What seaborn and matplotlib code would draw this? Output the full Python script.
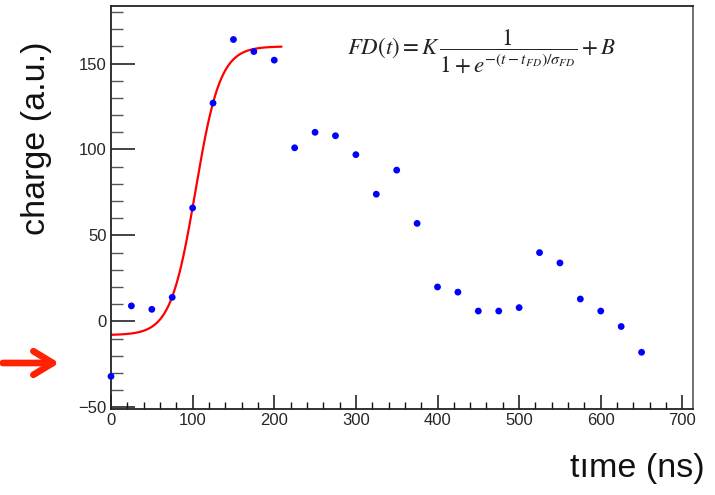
import numpy as np
import pandas as pd
import matplotlib
matplotlib.use("Agg")
import matplotlib.pyplot as plt
from matplotlib.patches import FancyArrowPatch
from matplotlib.ticker import MultipleLocator
import seaborn as sns

# ---- data ----
time_ns = [0, 25, 50, 75, 100, 125, 150, 175, 200, 225, 250, 275, 300, 325,
           350, 375, 400, 425, 450, 475, 500, 525, 550, 575, 600, 625, 650]
charge = [-32, 9, 7, 14, 66, 127, 164, 157, 152, 101, 110, 108, 97, 74,
          88, 57, 20, 17, 6, 6, 8, 40, 34, 13, 6, -3, -18]

# Fermi-Dirac fit parameters
fit_K = 168.0
fit_B = -8.0
fit_t0 = 103.5
fit_sigma = 15.2
fit_range = (0, 209)

sns.set_theme(style="ticks")
plt.rcParams["font.family"] = ["Liberation Sans", "DejaVu Sans"]
plt.rcParams["mathtext.fontset"] = "stix"

fig = plt.figure(figsize=(7.15, 4.95), dpi=100)
ax = fig.add_axes([111/715, 1-409/495, (693-111)/715, (409-6)/495])

df = pd.DataFrame({"time": time_ns, "charge": charge})
sns.scatterplot(data=df, x="time", y="charge", ax=ax, color="#0000ff",
                s=24, edgecolor="none", zorder=3, clip_on=False)

t_fit = np.linspace(fit_range[0], fit_range[1], 300)
fd = fit_K / (1 + np.exp(-(t_fit - fit_t0) / fit_sigma)) + fit_B
sns.lineplot(x=t_fit, y=fd, ax=ax, color="#ff0000", lw=1.6, zorder=2)

ax.set_xlim(0, 713)
ax.set_ylim(-51, 183.5)
ax.set_xlabel("")
ax.set_ylabel("")

ax.xaxis.set_major_locator(MultipleLocator(100))
ax.xaxis.set_minor_locator(MultipleLocator(20))
ax.yaxis.set_major_locator(MultipleLocator(50))
ax.yaxis.set_minor_locator(MultipleLocator(10))
ax.tick_params(axis="x", which="major", direction="in", length=10, width=1.1,
               labelsize=12, pad=3, color="#111111")
ax.tick_params(axis="x", which="minor", direction="in", length=5, width=1.0,
               color="#111111")
ax.tick_params(axis="y", which="major", direction="in", length=17, width=1.1,
               labelsize=12, pad=3, color="#111111")
ax.tick_params(axis="y", which="minor", direction="in", length=8.5, width=1.0,
               color="#555555")
ax.tick_params(top=False, right=False)

for side in ["left", "bottom", "top"]:
    ax.spines[side].set_visible(True)
    ax.spines[side].set_linewidth(1.3)
    ax.spines[side].set_color("#222222")
ax.spines["right"].set_visible(True)
ax.spines["right"].set_linewidth(1.3)
ax.spines["right"].set_color("#666666")

# formula
ax.text(0.637, 0.885,
        r"$FD(t)=K\,\dfrac{1}{1+e^{-(t-t_{FD})/\sigma_{FD}}}+B$",
        transform=ax.transAxes, ha="center", va="center", fontsize=16.5,
        color="#222222")

# axis labels as figure text
fig.text(37/715, 1-138/495, "charge (a.u.)", rotation=90, ha="center",
         va="center", fontsize=24.5, color="#111111")
fig.text(705/715, 1-468/495, "tıme (ns)", ha="right", va="center",
         fontsize=24.5, color="#111111")

# red arrow on the left
arr = FancyArrowPatch((0/715, 1-363/495), (62/715, 1-363/495),
                      transform=fig.transFigure,
                      arrowstyle="->,head_length=14,head_width=8.5",
                      color="#ff2200", lw=4.8, capstyle="round",
                      joinstyle="round", mutation_scale=1)
fig.patches.append(arr)

fig.savefig("out.png", dpi=100)
